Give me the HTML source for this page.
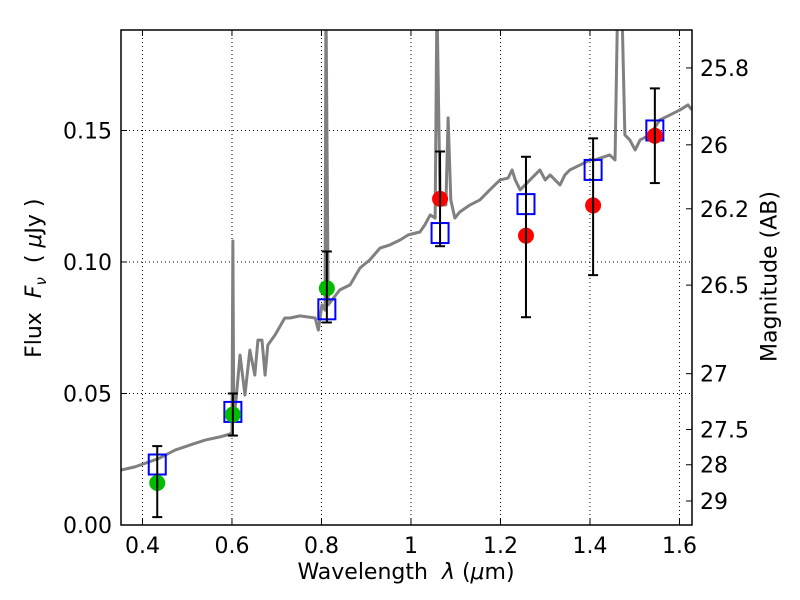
<!DOCTYPE html>
<html><head><meta charset="utf-8"><style>body{margin:0;background:#fff}svg{display:block;font-family:"DejaVu Sans","Liberation Sans",sans-serif}</style></head>
<body>
<svg id="c" width="800" height="600"></svg>
<script>
const specLam=[0.352,0.383,0.415,0.439,0.473,0.506,0.540,0.573,0.596,0.600,0.602,0.604,0.609,0.618,0.629,0.640,0.651,0.658,0.667,0.674,0.680,0.696,0.718,0.730,0.752,0.786,0.793,0.801,0.808,0.810,0.815,0.841,0.864,0.886,0.908,0.931,0.953,0.976,0.994,1.020,1.031,1.043,1.054,1.058,1.065,1.069,1.078,1.083,1.089,1.098,1.109,1.132,1.154,1.176,1.199,1.217,1.226,1.233,1.244,1.266,1.288,1.300,1.311,1.333,1.344,1.355,1.378,1.400,1.411,1.444,1.456,1.462,1.471,1.478,1.489,1.501,1.512,1.534,1.556,1.579,1.601,1.619,1.628];
const specFlux=[0.0209,0.0221,0.0240,0.0255,0.0285,0.0304,0.0323,0.0335,0.0346,0.0354,0.108,0.040,0.0475,0.0646,0.0494,0.0665,0.057,0.0703,0.0703,0.057,0.0684,0.0722,0.0787,0.0787,0.0795,0.0787,0.0741,0.0837,0.0817,0.20,0.0837,0.0894,0.0913,0.0977,0.1008,0.1053,0.1065,0.1084,0.1103,0.1114,0.1141,0.1179,0.1167,0.20,0.1236,0.1217,0.1217,0.1548,0.1236,0.1167,0.119,0.1217,0.1236,0.1274,0.1312,0.1319,0.135,0.1312,0.1274,0.1312,0.135,0.1312,0.1331,0.1293,0.1331,0.135,0.1369,0.1388,0.1388,0.1407,0.1388,0.20,0.20,0.1483,0.1464,0.1426,0.1464,0.1483,0.154,0.1559,0.1578,0.1597,0.1578];
const obsLam=[0.433,0.602,0.812,1.065,1.257,1.407,1.545];
const obsFlux=[0.016,0.042,0.090,0.124,0.110,0.1215,0.148];
const errLo=[0.003,0.034,0.077,0.106,0.079,0.095,0.130];
const errHi=[0.030,0.050,0.104,0.142,0.140,0.147,0.166];
const obsColor=['#00bb00','#00bb00','#00bb00','red','red','red','red'];
const modelFlux=[0.023,0.043,0.082,0.111,0.122,0.135,0.150];
const xTicks=[0.4,0.6,0.8,1.0,1.2,1.4,1.6];
const xTickLabels=['0.4','0.6','0.8','1','1.2','1.4','1.6'];
const yTicks=[0,0.05,0.10,0.15];
const yTickLabels=['0.00','0.05','0.10','0.15'];
const magTicks=[25.8,26,26.2,26.5,27,27.5,28,29];
const magLabels=['25.8','26','26.2','26.5','27','27.5','28','29'];

const L=121,R=692,T=30,B=525,xmin=0.352,xmax=1.628,ymin=0,ymax=0.1882;
const X=v=>L+(v-xmin)/(xmax-xmin)*(R-L);
const Y=v=>B-(v-ymin)/(ymax-ymin)*(B-T);
const magToF=m=>Math.pow(10,(23.9-m)/2.5);
const svg=document.getElementById('c');const NS='http://www.w3.org/2000/svg';
function mk(t,a,p){const e=document.createElementNS(NS,t);for(const k in a)e.setAttribute(k,a[k]);(p||svg).appendChild(e);return e;}
const cp=mk('clipPath',{id:'cp'});mk('rect',{x:L,y:T,width:R-L,height:B-T},cp);
xTicks.forEach((v,i)=>{
 const g=mk('line',{x1:X(v),x2:X(v),y1:T,y2:B,stroke:'#000','stroke-width':1,'stroke-dasharray':'1,3'});
 
 mk('line',{x1:X(v),x2:X(v),y1:B,y2:B-6,stroke:'#000'});mk('line',{x1:X(v),x2:X(v),y1:T,y2:T+6,stroke:'#000'});
 const t=mk('text',{x:X(v),y:B+28,'text-anchor':'middle','font-size':22});t.textContent=xTickLabels[i];
 
});
yTicks.forEach((v,i)=>{
 const g=mk('line',{x1:L,x2:R,y1:Y(v),y2:Y(v),stroke:'#000','stroke-width':1,'stroke-dasharray':'1,3'});
 
 mk('line',{x1:L,x2:L+6,y1:Y(v),y2:Y(v),stroke:'#000'});
 const t=mk('text',{x:L-9,y:Y(v)+8,'text-anchor':'end','font-size':22});t.textContent=yTickLabels[i];
 
});
magTicks.forEach((m,i)=>{
 const y=Y(magToF(m));
 mk('line',{x1:R,x2:R-6,y1:y,y2:y,stroke:'#000'});
 const t=mk('text',{x:R+8,y:y+8,'font-size':22});t.textContent=magLabels[i];
 
});
const g=mk('g',{'clip-path':'url(#cp)'});
const sp=mk('polyline',{points:specLam.map((l,i)=>X(l)+','+Y(specFlux[i])).join(' '),fill:'none',stroke:'#808080','stroke-width':3,'stroke-linejoin':'round'},g);

obsLam.forEach((l,i)=>{
 const x=X(l);
 const sq=mk('rect',{x:x-8.5,y:Y(modelFlux[i])-10,width:17,height:20,fill:'none',stroke:'#0000ff','stroke-width':2});
 
 const c=mk('circle',{cx:x,cy:Y(obsFlux[i]),r:8,fill:obsColor[i]});
 
 const e=mk('g',{stroke:'#000','stroke-width':2});
 
 mk('line',{x1:x,x2:x,y1:Y(errLo[i]),y2:Y(errHi[i])},e);
 mk('line',{x1:x-5,x2:x+5,y1:Y(errLo[i]),y2:Y(errLo[i])},e);
 mk('line',{x1:x-5,x2:x+5,y1:Y(errHi[i]),y2:Y(errHi[i])},e);
});
const fr=mk('rect',{x:L,y:T,width:R-L,height:B-T,fill:'none',stroke:'#000','stroke-width':1.5});

</script>
<div style="position:absolute;left:0;top:0;width:800px;height:600px;pointer-events:none;font-family:'DejaVu Sans','Liberation Sans',sans-serif">
 <div style="position:absolute;left:0;width:812px;top:560px;text-align:center;font-size:22px">Wavelength &nbsp;<i>λ</i> (<i>μ</i>m)</div>
 <div style="position:absolute;left:-74px;top:264px;width:220px;text-align:center;font-size:22px;transform:rotate(-90deg)">Flux &nbsp;<i>F<sub style="font-size:15px">ν</sub></i> &nbsp;( <i>μ</i>Jy )</div>
 <div style="position:absolute;left:660px;top:264px;width:220px;text-align:center;font-size:22px;transform:rotate(-90deg)">Magnitude (AB)</div>
</div>
</body></html>
